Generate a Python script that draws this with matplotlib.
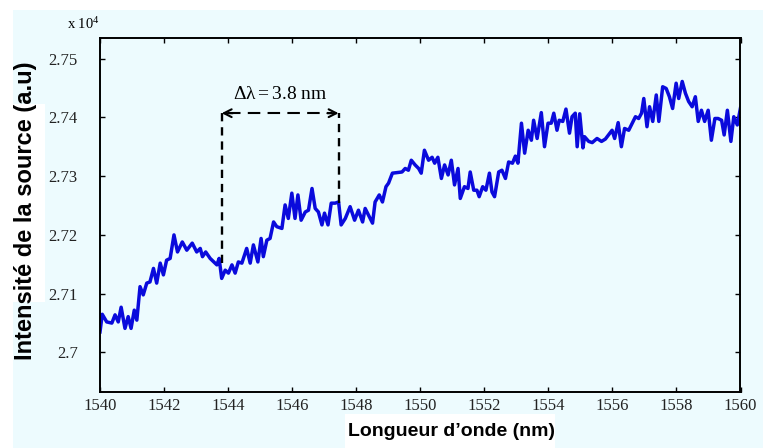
import matplotlib
matplotlib.use("Agg")
import matplotlib.pyplot as plt
from matplotlib.patches import Rectangle

plt.rcParams["mathtext.fontset"] = "custom"
plt.rcParams["mathtext.rm"] = "Liberation Serif"
plt.rcParams["mathtext.it"] = "Liberation Serif:italic"
plt.rcParams["mathtext.bf"] = "Liberation Serif:bold"

# ---------------- data ----------------
wavelength_nm = [
    1540.00, 1540.07, 1540.21, 1540.37, 1540.47, 1540.57, 1540.66, 1540.78, 1540.88, 1540.97,
    1541.07, 1541.15, 1541.25, 1541.35, 1541.46, 1541.56, 1541.67, 1541.77, 1541.88, 1541.98,
    1542.08, 1542.19, 1542.31, 1542.42, 1542.57, 1542.71, 1542.88, 1543.02, 1543.13, 1543.20,
    1543.30, 1543.44, 1543.65, 1543.72, 1543.80, 1543.91, 1544.01, 1544.12, 1544.22, 1544.32,
    1544.43, 1544.58, 1544.69, 1544.79, 1544.93, 1545.03, 1545.10, 1545.21, 1545.31, 1545.42,
    1545.52, 1545.68, 1545.78, 1545.88, 1545.99, 1546.09, 1546.18, 1546.28, 1546.41, 1546.51,
    1546.62, 1546.72, 1546.82, 1546.93, 1547.01, 1547.12, 1547.22, 1547.34, 1547.45, 1547.53,
    1547.66, 1547.81, 1547.95, 1548.07, 1548.20, 1548.28, 1548.38, 1548.51, 1548.59, 1548.72,
    1548.82, 1548.93, 1549.01, 1549.13, 1549.27, 1549.43, 1549.53, 1549.63, 1549.72, 1549.84,
    1549.95, 1550.03, 1550.13, 1550.26, 1550.37, 1550.45, 1550.55, 1550.66, 1550.76, 1550.87,
    1550.97, 1551.07, 1551.18, 1551.25, 1551.38, 1551.49, 1551.56, 1551.67, 1551.77, 1551.84,
    1551.95, 1552.05, 1552.16, 1552.24, 1552.32, 1552.45, 1552.55, 1552.66, 1552.76, 1552.88,
    1552.97, 1553.05, 1553.16, 1553.26, 1553.37, 1553.47, 1553.54, 1553.65, 1553.78, 1553.88,
    1553.99, 1554.09, 1554.17, 1554.27, 1554.34, 1554.45, 1554.55, 1554.66, 1554.74, 1554.84,
    1554.90, 1554.98, 1555.08, 1555.13, 1555.26, 1555.37, 1555.52, 1555.66, 1555.78, 1555.88,
    1555.99, 1556.07, 1556.18, 1556.28, 1556.38, 1556.51, 1556.62, 1556.72, 1556.82, 1556.91,
    1556.98, 1557.08, 1557.16, 1557.26, 1557.37, 1557.45, 1557.57, 1557.68, 1557.78, 1557.88,
    1557.99, 1558.07, 1558.18, 1558.28, 1558.38, 1558.49, 1558.59, 1558.68, 1558.78, 1558.88,
    1558.99, 1559.09, 1559.20, 1559.30, 1559.41, 1559.49, 1559.59, 1559.70, 1559.79, 1559.90, 1560.00,
]

intensity_e4 = [
    2.7035, 2.7065, 2.7052, 2.7050, 2.7064, 2.7052, 2.7077, 2.7041, 2.7061, 2.7041,
    2.7072, 2.7055, 2.7112, 2.7098, 2.7118, 2.7120, 2.7143, 2.7118, 2.7152, 2.7132,
    2.7157, 2.7160, 2.7200, 2.7171, 2.7188, 2.7174, 2.7186, 2.7171, 2.7177, 2.7163,
    2.7171, 2.7160, 2.7149, 2.7160, 2.7126, 2.7140, 2.7135, 2.7149, 2.7135, 2.7154,
    2.7152, 2.7177, 2.7152, 2.7183, 2.7154, 2.7194, 2.7163, 2.7191, 2.7194, 2.7222,
    2.7214, 2.7211, 2.7251, 2.7228, 2.7271, 2.7228, 2.7268, 2.7225, 2.7239, 2.7242,
    2.7279, 2.7245, 2.7239, 2.7217, 2.7237, 2.7217, 2.7254, 2.7254, 2.7256, 2.7217,
    2.7228, 2.7248, 2.7225, 2.7242, 2.7222, 2.7245, 2.7234, 2.7220, 2.7256, 2.7268,
    2.7256, 2.7282, 2.7288, 2.7305, 2.7306, 2.7307, 2.7313, 2.7310, 2.7327, 2.7319,
    2.7313, 2.7305, 2.7344, 2.7327, 2.7332, 2.7322, 2.7332, 2.7296, 2.7319, 2.7302,
    2.7327, 2.7285, 2.7313, 2.7262, 2.7282, 2.7279, 2.7307, 2.7276, 2.7276, 2.7265,
    2.7282, 2.7276, 2.7305, 2.7273, 2.7265, 2.7307, 2.7310, 2.7296, 2.7324, 2.7322,
    2.7334, 2.7322, 2.7390, 2.7339, 2.7378, 2.7361, 2.7395, 2.7364, 2.7408, 2.7350,
    2.7390, 2.7390, 2.7407, 2.7378, 2.7395, 2.7393, 2.7414, 2.7373, 2.7401, 2.7407,
    2.7350, 2.7406, 2.7348, 2.7367, 2.7359, 2.7357, 2.7364, 2.7359, 2.7363, 2.7370,
    2.7378, 2.7364, 2.7391, 2.7350, 2.7381, 2.7378, 2.7390, 2.7401, 2.7398, 2.7407,
    2.7432, 2.7384, 2.7418, 2.7393, 2.7438, 2.7393, 2.7452, 2.7449, 2.7435, 2.7415,
    2.7458, 2.7432, 2.7461, 2.7441, 2.7427, 2.7418, 2.7435, 2.7393, 2.7412, 2.7393,
    2.7412, 2.7361, 2.7398, 2.7398, 2.7395, 2.7370, 2.7412, 2.7359, 2.7401, 2.7387, 2.7416,
]

x_ticks = [1540, 1542, 1544, 1546, 1548, 1550, 1552, 1554, 1556, 1558, 1560]
y_ticks = [2.70, 2.71, 2.72, 2.73, 2.74, 2.75]
y_tick_labels = ["2.7", "2.71", "2.72", "2.73", "2.74", "2.75"]

# annotation (Delta lambda)
delta_left = 1543.8
delta_right = 1547.45
delta_left_bottom = 2.7153
delta_right_bottom = 2.7255
delta_arrow_y = 2.7407
delta_text_y = 2.7440
delta_label = r"$\mathrm{\Delta\lambda} = \mathit{3.8}\ \mathrm{nm}$"

# ---------------- figure ----------------
W, H = 763, 448
BG = "#edfbfe"
fig = plt.figure(figsize=(W / 100, H / 100), dpi=100, facecolor="white")

def px_rect(x0, y0, x1, y1, color, z=0):
    fig.patches.append(Rectangle((x0 / W, 1 - y1 / H), (x1 - x0) / W, (y1 - y0) / H,
                                 transform=fig.transFigure, facecolor=color,
                                 edgecolor="none", zorder=z))

px_rect(13, 10, W, H, BG, z=-10)           # cyan backdrop
px_rect(0, 104, 45, 302, "white", z=-9)    # patch behind y label
px_rect(345, 414, 555, H, "white", z=-9)   # patch behind x label

left, right, top, bottom = 100, 740.5, 38, 392
ax = fig.add_axes([left / W, 1 - bottom / H, (right - left) / W, (bottom - top) / H])
ax.set_facecolor(BG)

ax.plot(wavelength_nm, intensity_e4, color="#0a0adc", lw=2.5, solid_joinstyle="round")

ax.set_xlim(1540, 1560)
ax.set_ylim(2.69328, 2.75349)
ax.set_xticks(x_ticks)
ax.set_xticklabels([str(t) for t in x_ticks])
ax.set_yticks(y_ticks)
ax.set_yticklabels(y_tick_labels)

ax.tick_params(direction="in", length=3.5, width=1.0, top=True, right=True,
               labelsize=12, colors="black", labelcolor="#222222")
ax.tick_params(axis="x", pad=4)
ax.tick_params(axis="y", pad=16)
for lab in ax.get_xticklabels() + ax.get_yticklabels():
    lab.set_family("Liberation Serif")
for s in ax.spines.values():
    s.set_linewidth(1.4)
    s.set_color("black")

# Delta-lambda annotation
vdash = dict(color="black", lw=1.7, linestyle=(0, (3.5, 2.5)))
hdash = dict(color="black", lw=1.5, linestyle=(0, (6, 3.5)))
ax.plot([delta_left, delta_left], [delta_left_bottom, delta_arrow_y], **vdash)
ax.plot([delta_right, delta_right], [delta_right_bottom, delta_arrow_y], **vdash)
ax.plot([delta_left + 0.2, delta_right - 0.2], [delta_arrow_y, delta_arrow_y], **hdash)
for xa, xb in [(delta_left, delta_left + 0.35), (delta_right, delta_right - 0.35)]:
    ax.annotate("", xy=(xa, delta_arrow_y), xytext=(xb, delta_arrow_y),
                arrowprops=dict(arrowstyle="->,head_length=0.55,head_width=0.28",
                                color="black", lw=1.5, shrinkA=0, shrinkB=0))
ax.text((delta_left + delta_right) / 2, delta_text_y, delta_label,
        ha="center", va="center", fontsize=14)

# labels
fig.text(26 / W, 1 - 211 / H, "Intensité de la source (a.u)", rotation=90,
         ha="center", va="center", fontsize=17, fontweight="bold",
         family="Liberation Sans")
fig.text(451 / W, 1 - 431 / H, "Longueur d’onde (nm)", ha="center", va="center",
         fontsize=14, fontweight="bold", family="Liberation Sans")
fig.text(67 / W, 1 - 24 / H, r"x 10$^4$", ha="left", va="center", fontsize=10.5,
         family="Liberation Serif")

fig.savefig("out.png", dpi=100, facecolor=fig.get_facecolor())
